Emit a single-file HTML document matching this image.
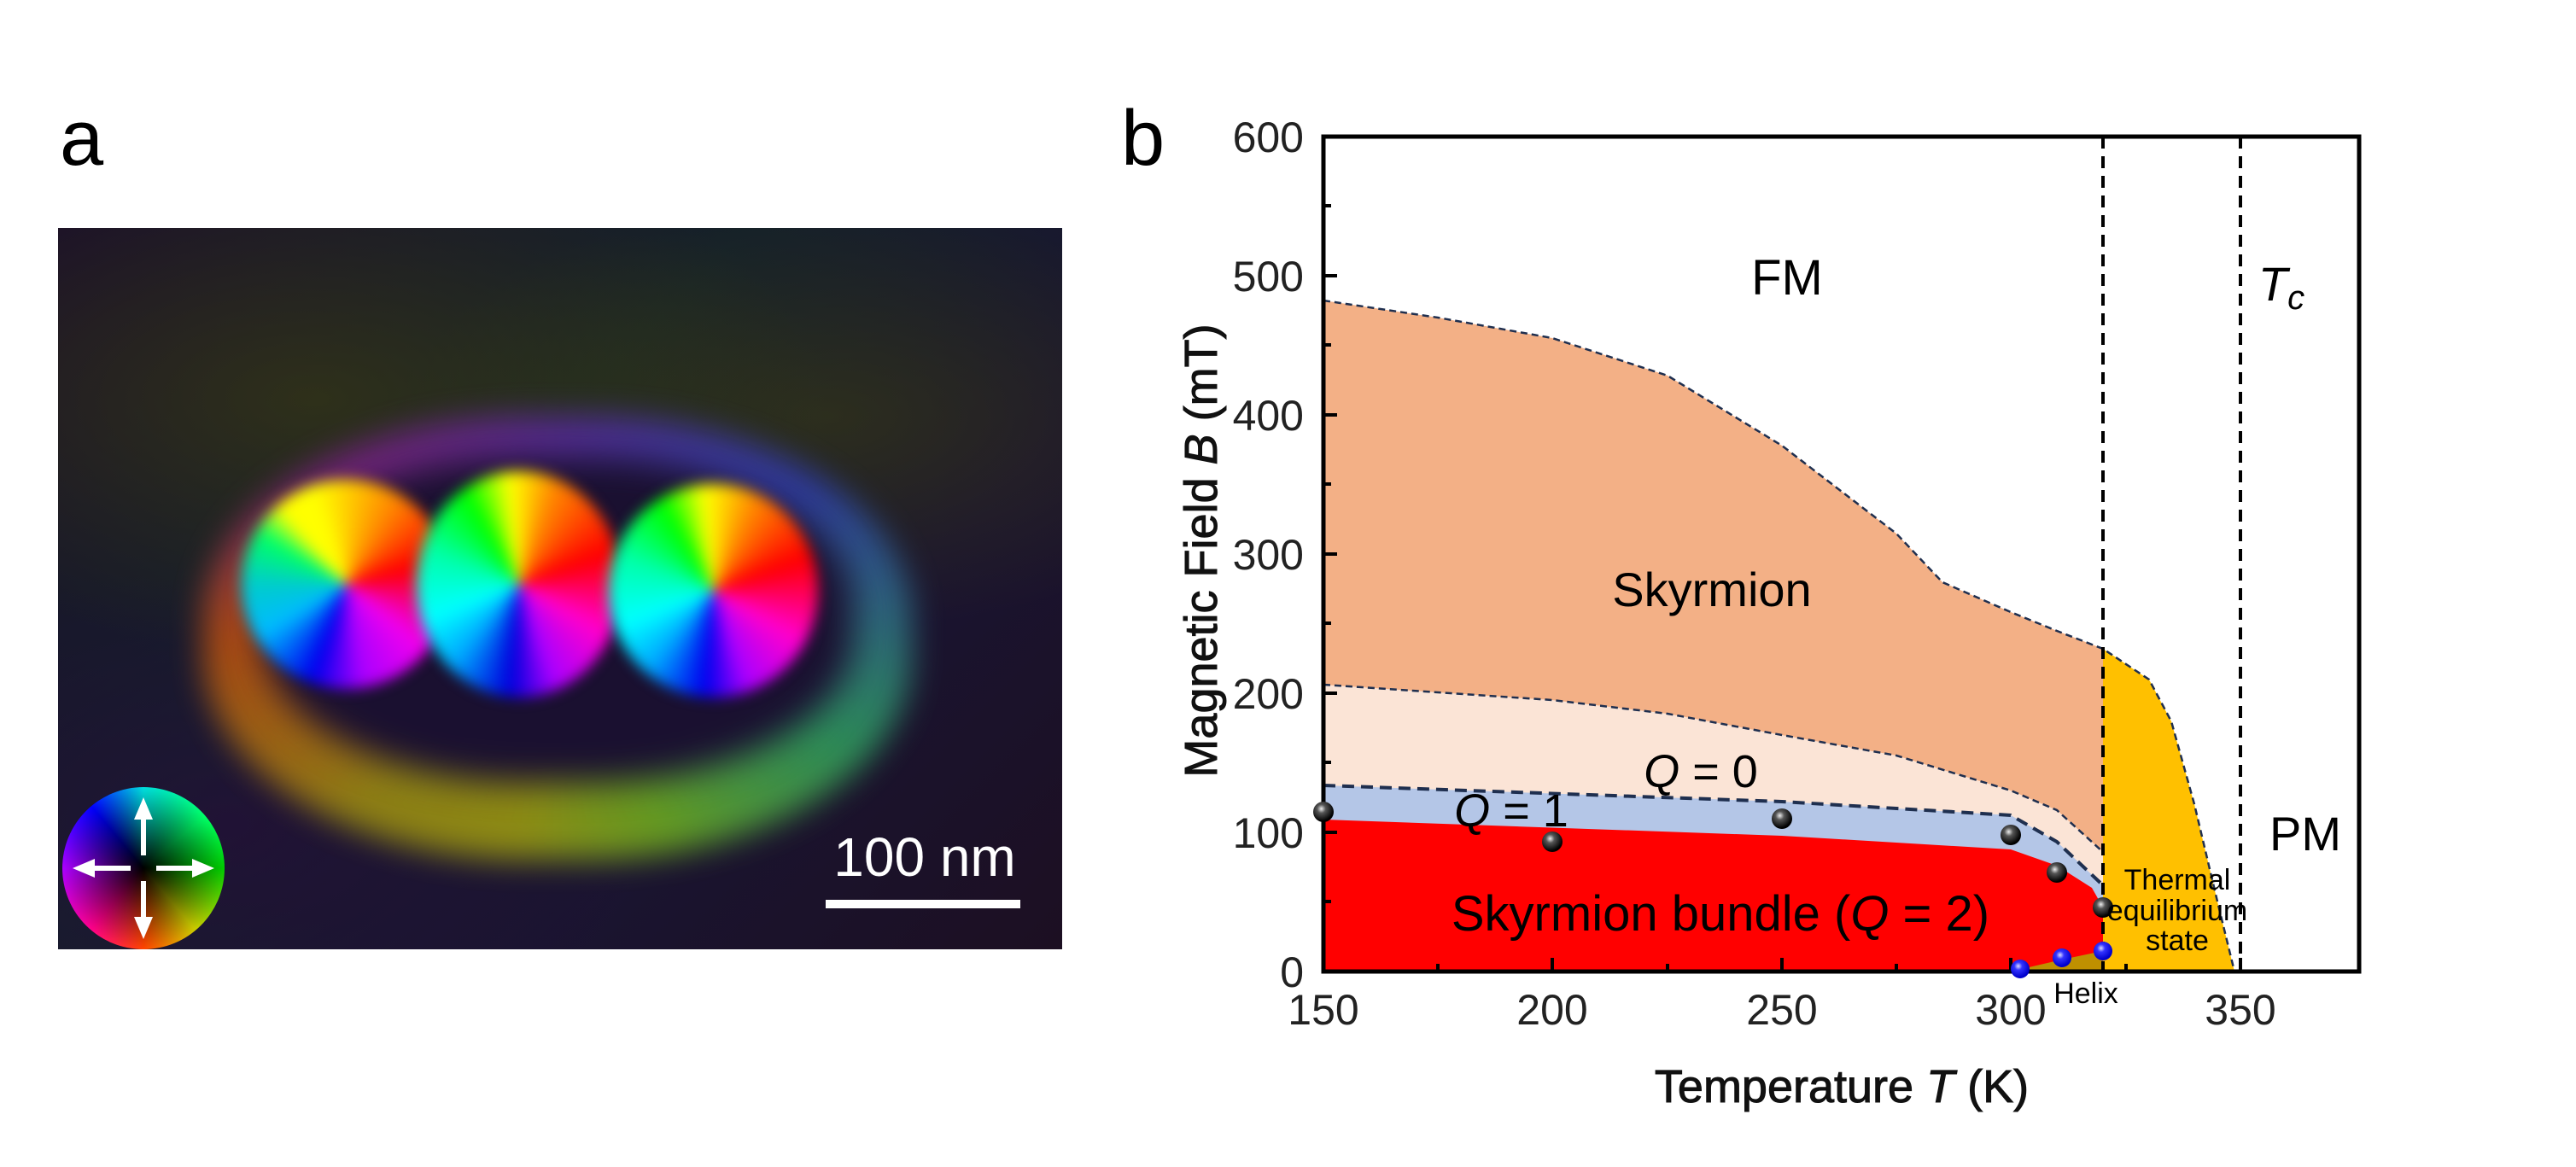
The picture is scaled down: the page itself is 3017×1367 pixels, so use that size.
<!DOCTYPE html>
<html><head><meta charset="utf-8"><style>
html,body{margin:0;padding:0;background:#fff;}
body{width:3017px;height:1367px;position:relative;overflow:hidden;font-family:"Liberation Sans",Arial,sans-serif;}
.lbl{position:absolute;font-size:92px;color:#000;}
#img{position:absolute;left:68px;top:267px;width:1176px;height:845px;overflow:hidden;
background:radial-gradient(ellipse 600px 300px at 300px 200px,rgba(70,70,10,0.5),transparent),
radial-gradient(ellipse 500px 250px at 900px 220px,rgba(70,70,10,0.45),transparent),
radial-gradient(ellipse 500px 300px at 200px 700px,rgba(40,10,60,0.6),transparent),
linear-gradient(135deg,#1a0f2a,#14202a 40%,#1a1430 70%,#1c0f22);}
.sk{position:absolute;border-radius:50%;}
</style></head><body>
<div class="lbl" style="left:70px;top:110px;">a</div>
<div class="lbl" style="left:1313px;top:110px;">b</div>

<div id="img">
 <div class="sk" style="left:170px;top:220px;width:830px;height:520px;border-radius:46%;background:conic-gradient(from 0deg,#5a2aa0,#3040b0 60deg,#30a060 110deg,#70b020 150deg,#a0a010 190deg,#a09010 230deg,#c05010 270deg,#802080 300deg,#5a2aa0 360deg);filter:blur(18px);opacity:0.85;"></div>
 <div class="sk" style="left:240px;top:270px;width:690px;height:380px;border-radius:45%;background:#1a1030;filter:blur(20px);"></div>
 <div class="sk" style="left:215px;top:295px;width:245px;height:245px;background:conic-gradient(from -20deg,#ff0 0deg,#f80 50deg,#f00 95deg,#e0e 150deg,#a0f 190deg,#00e 220deg,#0bf 260deg,#0cc 290deg,#0f6 320deg,#ff0 340deg,#ff0 360deg);filter:blur(8px);"></div>
 <div class="sk" style="left:420px;top:285px;width:240px;height:265px;background:conic-gradient(from -30deg,#0f0 0deg,#ff0 25deg,#f80 50deg,#f00 100deg,#f0c 150deg,#a0f 190deg,#00d 215deg,#0af 250deg,#0ff 280deg,#0fa 320deg,#0f0 360deg);filter:blur(8px);"></div>
 <div class="sk" style="left:645px;top:300px;width:245px;height:250px;background:conic-gradient(from -30deg,#0f0 0deg,#ff0 25deg,#f80 55deg,#f00 100deg,#f0c 150deg,#a0f 190deg,#00e 215deg,#0af 250deg,#0ff 280deg,#0fa 320deg,#0f0 360deg);filter:blur(8px);"></div>
 <div class="sk" style="left:5px;top:655px;width:190px;height:190px;background:conic-gradient(#0dd 0deg,#0f6 50deg,#0c0 90deg,#cc0 140deg,#f40 180deg,#f08 220deg,#a0f 270deg,#00f 320deg,#0dd 360deg);"></div>
 <div class="sk" style="left:5px;top:655px;width:190px;height:190px;background:radial-gradient(circle,#000 0%,rgba(0,0,0,0) 70%);"></div>
 <svg style="position:absolute;left:5px;top:655px" width="190" height="190">
  <g fill="#fff" stroke="#fff" stroke-width="6">
   <line x1="95" y1="80" x2="95" y2="30"/><polygon points="95,12 84,38 106,38" stroke="none"/>
   <line x1="95" y1="110" x2="95" y2="160"/><polygon points="95,178 84,152 106,152" stroke="none"/>
   <line x1="80" y1="95" x2="30" y2="95"/><polygon points="12,95 38,84 38,106" stroke="none"/>
   <line x1="110" y1="95" x2="160" y2="95"/><polygon points="178,95 152,84 152,106" stroke="none"/>
  </g>
 </svg>
 <div style="position:absolute;left:899px;top:787px;width:228px;height:10px;background:#fff;"></div>
 <div style="position:absolute;left:880px;top:700px;width:270px;text-align:center;color:#fff;font-size:64px;">100 nm</div>
</div>

<svg style="position:absolute;left:0;top:0" width="3017" height="1367" font-family="Liberation Sans, Arial, sans-serif">
 <path d="M1550,352 L1684,372 L1818,396 L1953,440 L2087,522 L2221,625 L2275,682 L2355,717 L2409,739 L2463,760 L2463,1138 L1550,1138Z" fill="#f3b086"/>
 <path d="M1550,802 L1818,820 L1953,836 L2087,861 L2221,885 L2355,926 L2409,949 L2463,998 L2463,1138 L1550,1138Z" fill="#fbe4d6"/>
 <path d="M1550,920 L2087,939 L2355,955 L2409,986 L2463,1037 L2463,1138 L1550,1138Z" fill="#b4c6e7"/>
 <path d="M1550,960 L2087,979 L2355,995 L2409,1014 L2450,1040 L2463,1063 L2463,1138 L1550,1138Z" fill="#ff0000"/>
 <path d="M2355,1138 L2415,1124 L2463,1114 L2463,1138Z" fill="#bf9000"/>
 <path d="M2463,760 L2517,796 L2543,845 L2570,942 L2597,1056 L2617,1138 L2463,1138Z" fill="#ffc000"/>
 <g fill="none" stroke="#1f2f4f" stroke-width="2.5" stroke-dasharray="8,5">
  <path d="M1550,352 L1684,372 L1818,396 L1953,440 L2087,522 L2221,625 L2275,682 L2355,717 L2409,739 L2463,760 L2517,796 L2543,845 L2570,942 L2597,1056 L2617,1138"/>
  <path d="M1550,802 L1818,820 L1953,836 L2087,861 L2221,885 L2355,926 L2409,949 L2463,998"/>
  <path d="M1550,920 L2087,939 L2355,955 L2409,986 L2463,1037" stroke-width="4" stroke-dasharray="14,8"/>
 </g>
 <g stroke="#000" stroke-width="4" stroke-dasharray="14,9">
  <line x1="2463" y1="160" x2="2463" y2="1138"/>
  <line x1="2624" y1="160" x2="2624" y2="1138"/>
 </g>
 <rect x="1550" y="160" width="1213" height="978" fill="none" stroke="#000" stroke-width="5"/>
 <g stroke="#000" stroke-width="4">
  <line x1="1550" y1="975" x2="1566" y2="975"/><line x1="1550" y1="812" x2="1566" y2="812"/>
  <line x1="1550" y1="649" x2="1566" y2="649"/><line x1="1550" y1="486" x2="1566" y2="486"/>
  <line x1="1550" y1="323" x2="1566" y2="323"/>
  <line x1="1550" y1="1056" x2="1559" y2="1056"/><line x1="1550" y1="893" x2="1559" y2="893"/>
  <line x1="1550" y1="730" x2="1559" y2="730"/><line x1="1550" y1="567" x2="1559" y2="567"/>
  <line x1="1550" y1="404" x2="1559" y2="404"/><line x1="1550" y1="241" x2="1559" y2="241"/>
  <line x1="1818" y1="1138" x2="1818" y2="1122"/><line x1="2087" y1="1138" x2="2087" y2="1122"/>
  <line x1="2355" y1="1138" x2="2355" y2="1122"/><line x1="2624" y1="1138" x2="2624" y2="1122"/>
  <line x1="1684" y1="1138" x2="1684" y2="1129"/><line x1="1953" y1="1138" x2="1953" y2="1129"/>
  <line x1="2221" y1="1138" x2="2221" y2="1129"/><line x1="2490" y1="1138" x2="2490" y2="1129"/>
 </g>
 <defs>
  <radialGradient id="bk" cx="0.4" cy="0.35" r="0.6"><stop offset="0" stop-color="#eee"/><stop offset="0.35" stop-color="#555"/><stop offset="1" stop-color="#000"/></radialGradient>
  <radialGradient id="bl" cx="0.4" cy="0.35" r="0.6"><stop offset="0" stop-color="#ddf"/><stop offset="0.35" stop-color="#33f"/><stop offset="1" stop-color="#00c"/></radialGradient>
 </defs>
 <g fill="url(#bk)">
  <circle cx="1550" cy="951" r="12"/><circle cx="1818" cy="986" r="12"/><circle cx="2087" cy="959" r="12"/>
  <circle cx="2355" cy="978" r="12"/><circle cx="2409" cy="1022" r="12"/><circle cx="2463" cy="1063" r="12"/>
 </g>
 <g fill="url(#bl)">
  <circle cx="2366" cy="1135" r="11"/><circle cx="2415" cy="1122" r="11"/><circle cx="2463" cy="1114" r="11"/>
 </g>
 <g font-size="50" text-anchor="end" fill="#222">
  <text x="1527" y="1156">0</text><text x="1527" y="993">100</text><text x="1527" y="830">200</text>
  <text x="1527" y="667">300</text><text x="1527" y="504">400</text><text x="1527" y="341">500</text><text x="1527" y="178">600</text>
 </g>
 <g font-size="50" text-anchor="middle" fill="#222">
  <text x="1550" y="1200">150</text><text x="1818" y="1200">200</text><text x="2087" y="1200">250</text>
  <text x="2355" y="1200">300</text><text x="2624" y="1200">350</text>
 </g>
 <text x="2157" y="1291" font-size="54" text-anchor="middle" fill="#111" stroke="#111" stroke-width="1">Temperature <tspan font-style="italic">T</tspan> (K)</text>
 <text transform="translate(1425,645) rotate(-90)" font-size="54" text-anchor="middle" fill="#111" stroke="#111" stroke-width="1">Magnetic Field <tspan font-style="italic">B</tspan> (mT)</text>
 <g fill="#000" text-anchor="middle">
  <text x="2093" y="345" font-size="58">FM</text>
  <text x="2672" y="352" font-size="56" font-style="italic">T<tspan font-size="40" dy="10">c</tspan></text>
  <text x="2005" y="710" font-size="56">Skyrmion</text>
  <text x="1992" y="922" font-size="54"><tspan font-style="italic">Q</tspan> = 0</text>
  <text x="1770" y="968" font-size="54"><tspan font-style="italic">Q</tspan> = 1</text>
  <text x="2700" y="996" font-size="56">PM</text>
  <text x="2015" y="1090" font-size="58">Skyrmion bundle (<tspan font-style="italic">Q</tspan> = 2)</text>
  <text x="2550" y="1042" font-size="34">Thermal</text>
  <text x="2550" y="1078" font-size="34">equilibrium</text>
  <text x="2550" y="1113" font-size="34">state</text>
  <text x="2443" y="1175" font-size="34">Helix</text>
 </g>
</svg>
</body></html>
